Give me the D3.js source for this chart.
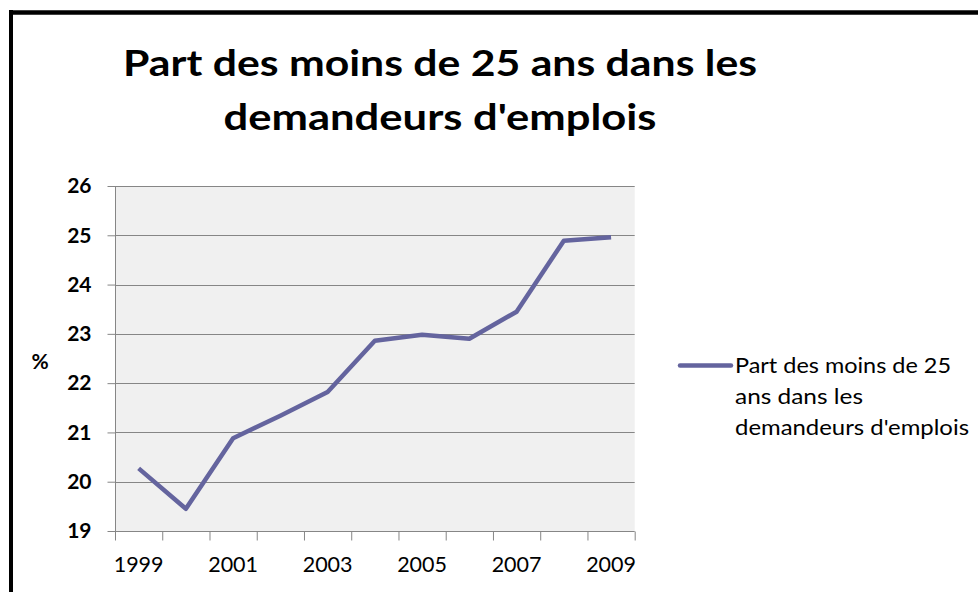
<!DOCTYPE html>
<html>
<head>
<meta charset="utf-8">
<script src="https://cdn.jsdelivr.net/npm/d3@7"></script>
<style>
  html, body { margin: 0; padding: 0; background: #fff; }
  svg { display: block; }
</style>
</head>
<body>
<svg id="chart" width="978" height="592"></svg>
<script>
const titleLines = ["Part des moins de 25 ans dans les", "demandeurs d'emplois"];
const years = ["1999","2000","2001","2002","2003","2004","2005","2006","2007","2008","2009"];
const values = [20.27, 19.45, 20.88, 21.34, 21.82, 22.86, 22.98, 22.90, 23.45, 24.89, 24.96];
const xTickLabels = ["1999","2001","2003","2005","2007","2009"];
const yTicks = [19, 20, 21, 22, 23, 24, 25, 26];
const yAxisTitle = "%";
const legendLines = ["Part des moins de 25", "ans dans les", "demandeurs d'emplois"];

const FONT = "Lato, 'Open Sans', sans-serif";
const lineColor = "#64649e";
const gridColor = "#868686";

const svg = d3.select("#chart");

// outer frame (top and left edges visible)
svg.append("line").attr("x1", 9).attr("x2", 978).attr("y1", 12.5).attr("y2", 12.5)
  .attr("stroke", "#000").attr("stroke-width", 4.5);
svg.append("line").attr("x1", 11).attr("x2", 11).attr("y1", 10).attr("y2", 592)
  .attr("stroke", "#000").attr("stroke-width", 4);

// title
const titleY = [76, 130];
titleLines.forEach((t, i) => {
  svg.append("text")
    .attr("x", 440).attr("y", titleY[i])
    .attr("text-anchor", "middle")
    .attr("font-family", FONT).attr("font-weight", "bold")
    .attr("font-size", 37).attr("fill", "#000")
    .attr("textLength", i === 0 ? 634 : 433)
    .attr("lengthAdjust", "spacingAndGlyphs")
    .text(t);
});

const plot = { left: 115, right: 634.7, top: 186, bottom: 531 };

const x = d3.scaleBand().domain(years).range([plot.left, plot.right]).padding(0);
const y = d3.scaleLinear().domain([19, 26]).range([plot.bottom, plot.top]);

// plot background
svg.append("rect")
  .attr("x", plot.left).attr("y", plot.top)
  .attr("width", plot.right - plot.left).attr("height", plot.bottom - plot.top)
  .attr("fill", "#f0f0f0");

// gridlines
svg.append("g").selectAll("line").data(yTicks.filter(v => v > 19)).join("line")
  .attr("x1", plot.left).attr("x2", plot.right)
  .attr("y1", d => Math.round(y(d)) + 0.5).attr("y2", d => Math.round(y(d)) + 0.5)
  .attr("stroke", gridColor).attr("stroke-width", 1);

// y axis
const yAxis = d3.axisLeft(y).tickValues(yTicks).tickSize(8).tickPadding(16).tickFormat(d3.format("d"));
const gy = svg.append("g").attr("transform", `translate(${plot.left + 0.5},0)`).call(yAxis);
gy.select(".domain").attr("stroke", gridColor).attr("d", `M0,${plot.top}V${plot.bottom}`);
gy.selectAll(".tick line").attr("stroke", gridColor);
gy.selectAll(".tick text")
  .attr("font-family", FONT).attr("font-weight", "bold").attr("font-size", 21).attr("fill", "#000");

// x axis: ticks at band boundaries
const boundaries = years.map(d => x(d)).concat([plot.right]);
const xLin = d3.scaleLinear().domain([0, years.length]).range([plot.left, plot.right]);
const xAxis = d3.axisBottom(xLin).tickValues(d3.range(years.length + 1)).tickSize(9).tickFormat("");
const gx = svg.append("g").attr("transform", `translate(0,${plot.bottom + 0.5})`).call(xAxis);
gx.select(".domain").attr("stroke", gridColor).attr("d", `M${plot.left},0H${plot.right}`);
gx.selectAll(".tick line").attr("stroke", gridColor);

svg.append("g").selectAll("text").data(xTickLabels).join("text")
  .attr("x", d => x(d) + x.bandwidth() / 2)
  .attr("y", 571.5)
  .attr("text-anchor", "middle")
  .attr("font-family", FONT).attr("font-size", 21.5).attr("fill", "#000")
  .text(d => d);

// y axis title
svg.append("text")
  .attr("x", 40).attr("y", 362).attr("dy", "0.35em")
  .attr("text-anchor", "middle")
  .attr("font-family", FONT).attr("font-weight", "bold").attr("font-size", 21)
  .text(yAxisTitle);

// series line
const line = d3.line()
  .x((d, i) => x(years[i]) + x.bandwidth() / 2)
  .y(d => y(d));
svg.append("path")
  .datum(values)
  .attr("d", line)
  .attr("fill", "none")
  .attr("stroke", lineColor)
  .attr("stroke-width", 4.5)
  .attr("stroke-linejoin", "round");

// legend
svg.append("line")
  .attr("x1", 680).attr("x2", 731).attr("y1", 365.5).attr("y2", 365.5)
  .attr("stroke", lineColor).attr("stroke-width", 4.5).attr("stroke-linecap", "round");
const legendY = [372.5, 404, 435];
const legendW = [216, 128, 234];
legendLines.forEach((t, i) => {
  svg.append("text")
    .attr("x", 735).attr("y", legendY[i])
    .attr("font-family", FONT).attr("font-size", 21).attr("fill", "#000")
    .attr("textLength", legendW[i]).attr("lengthAdjust", "spacingAndGlyphs")
    .text(t);
});
</script>
</body>
</html>
